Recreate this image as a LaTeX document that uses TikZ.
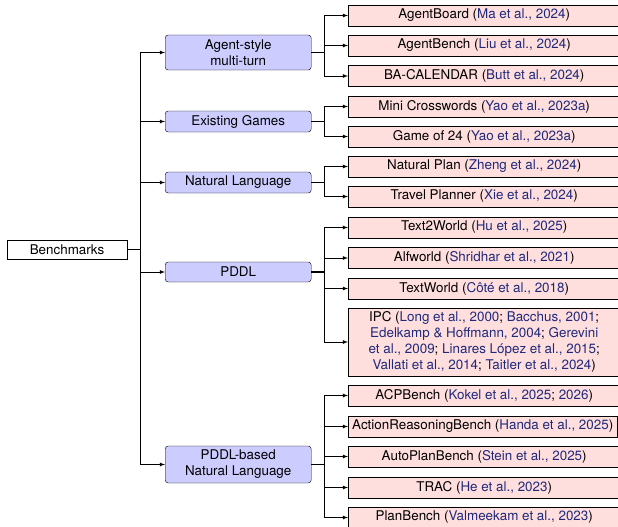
\documentclass[tikz,border=0pt]{standalone}
\usepackage{fontspec}
\setmainfont{TeX Gyre Heros}
\usepackage{tikz}
\usetikzlibrary{positioning,arrows}
\definecolor{citeblue}{rgb}{0.12,0.16,0.48}
\definecolor{midfill}{rgb}{0.8,0.8,1}
\definecolor{leaffill}{rgb}{1,0.87,0.87}
\newcommand{\ct}[1]{\textcolor{citeblue}{#1}}

\begin{document}
\begin{tikzpicture}[x=1pt,y=-1pt]
\tikzstyle{root}=[rectangle, draw=black, fill=white, minimum width=120pt, minimum height=19pt, inner sep=2pt, font=\fontsize{13.4}{16}\selectfont]
\tikzstyle{mid}=[rectangle, rounded corners=3pt, draw=black, fill=midfill, minimum width=146pt, minimum height=21pt, inner sep=2pt, align=center, anchor=west, font=\fontsize{13.4}{16}\selectfont]
\tikzstyle{leaf}=[rectangle, draw=black, fill=leaffill, minimum width=272pt, minimum height=21pt, inner sep=2pt, align=center, anchor=west, font=\fontsize{13.4}{16}\selectfont]
\tikzstyle{connect}=[-latex, line width=0.8pt]
\tikzstyle{stub}=[line width=1.3pt]

\useasboundingbox (0,0) rectangle (618,527);
\clip (0,0) rectangle (618,527);

% root
\node[root] (bench) at (67,249.5) {Benchmarks};

% categories
\node[mid, minimum height=35pt] (agent) at (165,52.5) {Agent-style\\multi-turn};
\node[mid] (games) at (165,121.5) {Existing Games};
\node[mid] (natlang) at (165,182.5) {Natural Language};
\node[mid, minimum height=20pt] (pddl) at (165,272) {PDDL};
\node[mid, minimum height=37pt] (pddlnl) at (165,464.5) {PDDL-based\\Natural Language};

% benchmarks
\node[leaf] (agentboard) at (348,15.5) {AgentBoard (\ct{Ma et al., 2024})};
\node[leaf] (agentbench) at (348,45.5) {AgentBench (\ct{Liu et al., 2024})};
\node[leaf] (bacal) at (348,76) {BA-CALENDAR (\ct{Butt et al., 2024})};
\node[leaf] (minicross) at (348,106.5) {Mini Crosswords (\ct{Yao et al., 2023a})};
\node[leaf] (game24) at (348,136.5) {Game of 24 (\ct{Yao et al., 2023a})};
\node[leaf] (natplan) at (348,166.5) {Natural Plan (\ct{Zheng et al., 2024})};
\node[leaf] (travel) at (348,196.5) {Travel Planner (\ct{Xie et al., 2024})};
\node[leaf] (text2world) at (348,227.5) {Text2World (\ct{Hu et al., 2025})};
\node[leaf] (alfworld) at (348,258) {Alfworld (\ct{Shridhar et al., 2021})};
\node[leaf] (textworld) at (348,288.5) {TextWorld (\ct{Côté et al., 2018})};
\node[leaf, minimum height=68pt] (ipc) at (348,342) {IPC (\ct{Long et al., 2000}; \ct{Bacchus, 2001};\\
  \ct{Edelkamp \& Hoffmann, 2004}; \ct{Gerevini}\\
  \ct{et al., 2009}; \ct{Linares López et al., 2015};\\
  \ct{Vallati et al., 2014}; \ct{Taitler et al., 2024})};
\node[leaf] (acpbench) at (348,395.5) {ACPBench (\ct{Kokel et al., 2025}; \ct{2026})};
\node[leaf, minimum width=269pt] (arbench) at (348,426.5) {ActionReasoningBench (\ct{Handa et al., 2025})};
\node[leaf] (autoplan) at (348,456.5) {AutoPlanBench (\ct{Stein et al., 2025})};
\node[leaf] (trac) at (348,487.5) {TRAC (\ct{He et al., 2023})};
\node[leaf] (planbench) at (348,517.5) {PlanBench (\ct{Valmeekam et al., 2023})};

% trunk
\coordinate (t0) at (140,249.5);
\draw[stub] (bench.east) -- (t0);
\foreach \m in {agent,games,natlang,pddl,pddlnl}
  \draw[connect] (t0) |- (\m.west);

% branches
\coordinate (bA) at (324,52.5);
\coordinate (bG) at (324,121.5);
\coordinate (bN) at (324,182.5);
\coordinate (bP) at (324,272);
\coordinate (bQ) at (324,464.5);
\draw[stub] (agent.east) -- (bA);
\draw[stub] (games.east) -- (bG);
\draw[stub] (natlang.east) -- (bN);
\draw[stub] (pddl.east) -- (bP);
\draw[stub] (pddlnl.east) -- (bQ);
\foreach \l in {agentboard,agentbench,bacal}
  \draw[connect] (bA) |- (\l.west);
\foreach \l in {minicross,game24}
  \draw[connect] (bG) |- (\l.west);
\foreach \l in {natplan,travel}
  \draw[connect] (bN) |- (\l.west);
\foreach \l in {text2world,alfworld,textworld,ipc}
  \draw[connect] (bP) |- (\l.west);
\foreach \l in {acpbench,arbench,autoplan,trac,planbench}
  \draw[connect] (bQ) |- (\l.west);

\end{tikzpicture}
\end{document}
